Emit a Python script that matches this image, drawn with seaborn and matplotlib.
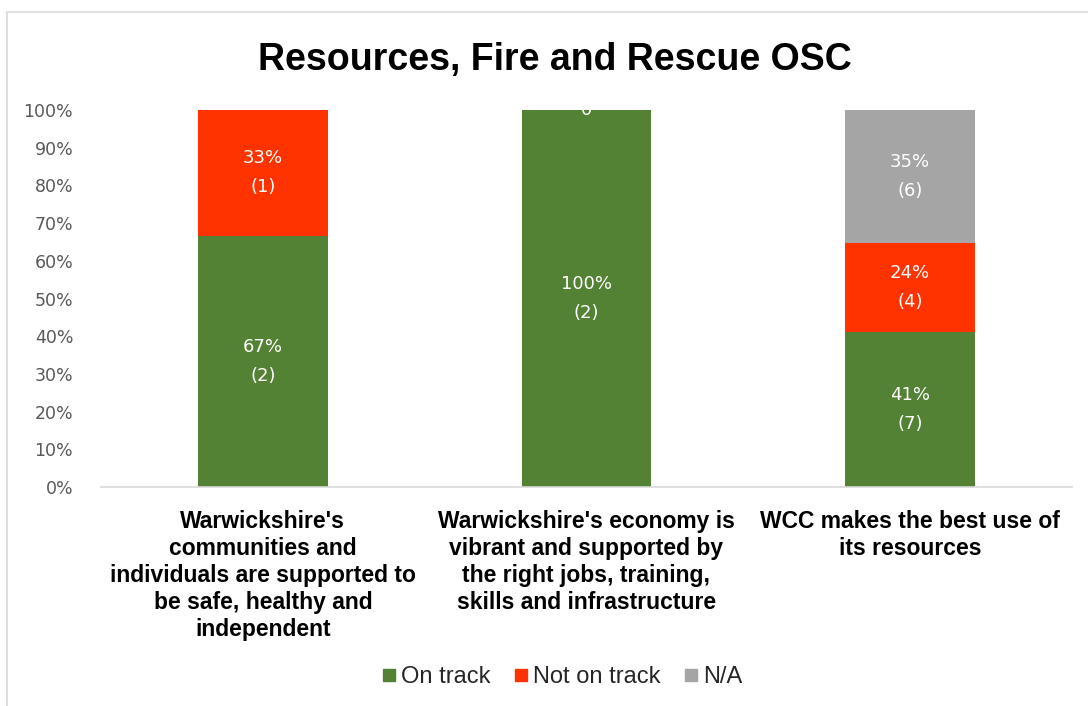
import matplotlib
matplotlib.use("Agg")
import matplotlib.pyplot as plt
import seaborn as sns
import pandas as pd
import numpy as np
from matplotlib.patches import Rectangle
from matplotlib.lines import Line2D

categories = [
    "Warwickshire's\ncommunities and\nindividuals are supported to\nbe safe, healthy and\nindependent",
    "Warwickshire's economy is\nvibrant and supported by\nthe right jobs, training,\nskills and infrastructure",
    "WCC makes the best use of\nits resources",
]
series = ["On track", "Not on track", "N/A"]
on_track = [2, 2, 7]
not_on_track = [1, 0, 4]
na = [0, 0, 6]
on_track_pct = ["67%", "100%", "41%"]
not_on_track_pct = ["33%", "", "24%"]
na_pct = ["", "", "35%"]
colors = ["#548235", "#FF3300", "#A5A5A5"]
yticks = [0, 10, 20, 30, 40, 50, 60, 70, 80, 90, 100]

sns.set_theme(style="white")
plt.rcParams['font.family'] = ['DejaVu Sans']

counts = np.array([on_track, not_on_track, na], dtype=float)
totals = counts.sum(axis=0)
shares = counts / totals * 100
cum = np.cumsum(shares, axis=0)

fig = plt.figure(figsize=(10.88, 7.06), dpi=100)
ax = fig.add_axes([101/1088, 1-487/706, (1072-101)/1088, (487-110)/706])

short = ["c1", "c2", "c3"]
# draw from top cumulative down so lower segments cover
for i in [2, 1, 0]:
    df = pd.DataFrame({"cat": short, "val": cum[i]})
    sns.barplot(data=df, x="cat", y="val", color=colors[i], width=0.4,
                saturation=1, ax=ax, edgecolor="none", linewidth=0)

ax.set_ylim(0, 100)
ax.set_xlim(-0.5, 2.5)
ax.set_yticks(yticks)
ax.set_yticklabels([f"{t}%" for t in yticks], fontsize=12.5, color="#595959")
ax.tick_params(axis="y", length=0, pad=20)
ax.set_xticks(range(3))
ax.set_xticklabels(categories, fontsize=16.5, fontweight="bold", color="black",
                   family="Liberation Sans", linespacing=1.23)
ax.tick_params(axis="x", length=0, pad=16.5)
ax.set_xlabel("")
ax.set_ylabel("")
for s in ["top", "right", "left"]:
    ax.spines[s].set_visible(False)
ax.spines["bottom"].set_color("#D9D9D9")
ax.spines["bottom"].set_linewidth(1.2)
ax.grid(False)

# data labels
pct_lists = [on_track_pct, not_on_track_pct, na_pct]
for i in range(3):
    for j in range(3):
        if counts[i, j] > 0:
            bottom = cum[i, j] - shares[i, j]
            mid = bottom + shares[i, j] / 2
            ax.text(j, mid, f"{pct_lists[i][j]}\n({int(counts[i, j])})",
                    ha="center", va="center", color="white", fontsize=13,
                    linespacing=1.8)
# zero-value label peeking at the top of the middle bar
ax.text(1, 100, "0", ha="center", va="center", color="white", fontsize=13,
        clip_on=True)

fig.text(555/1088, 1-70/706, "Resources, Fire and Rescue OSC", ha="center",
         va="baseline", fontsize=27, fontweight="bold", family="Liberation Sans",
         color="black")

handles = [Line2D([0], [0], marker="s", linestyle="none", markersize=9,
                  markerfacecolor=c, markeredgecolor=c) for c in colors]
fig.legend(handles, series, loc="center", bbox_to_anchor=(560/1088, 1-677/706),
           ncol=3, frameon=False, prop={"family": "Liberation Sans", "size": 17},
           handletextpad=0.0, columnspacing=0.8, handlelength=1.0)

fig.patches.append(Rectangle((7/1088, -0.1), 1.2, 1-12/706+0.1,
                             transform=fig.transFigure, fill=False,
                             edgecolor="#D9D9D9", linewidth=1.2))

fig.savefig("out.png", dpi=100)
